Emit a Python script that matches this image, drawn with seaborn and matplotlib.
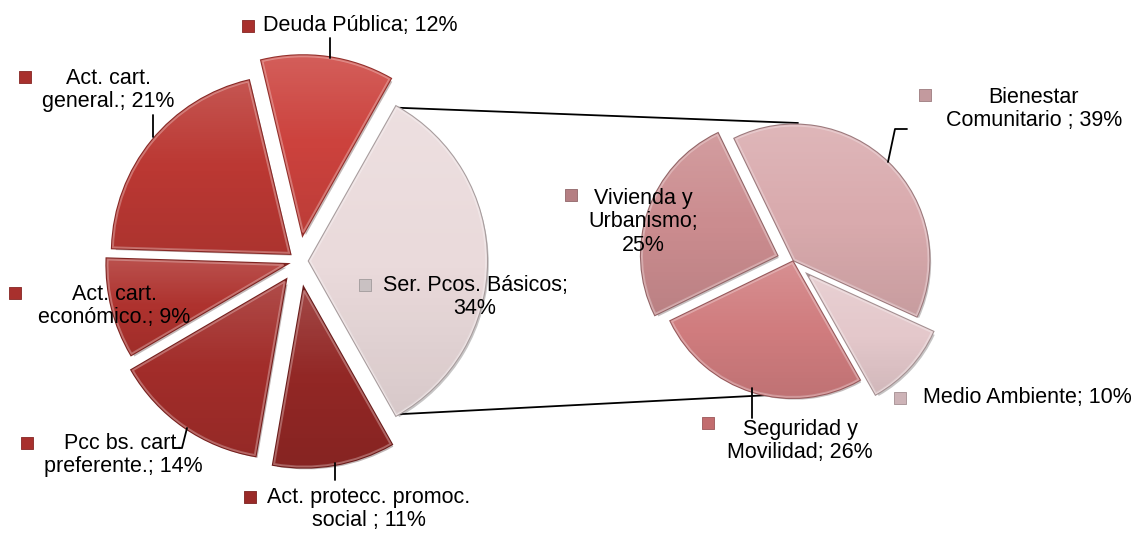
import numpy as np
import matplotlib
matplotlib.use("Agg")
import matplotlib.pyplot as plt
import matplotlib.patheffects as pe
import seaborn as sns

# ---------------- data ----------------
main_labels = ["Ser. Pcos. Básicos;\n34%", "Deuda Pública; 12%", "Act. cart.\ngeneral.; 21%",
               "Act. cart.\neconómico.; 9%", "Pcc bs. cart.\npreferente.; 14%",
               "Act. protecc. promoc.\nsocial ; 11%"]
main_values = [34, 12, 21, 9, 14, 11]

sub_labels = ["Bienestar\nComunitario ; 39%", "Vivienda y\nUrbanismo;\n25%",
              "Seguridad y\nMovilidad; 26%", "Medio Ambiente; 10%"]
sub_values = [39, 25, 26, 10]

# ---------------- style ----------------
main_colors = ["#EADADB", "#CC423D", "#BB3833", "#AE322E", "#A22D2A", "#922725"]
main_keys = ["#C9C1C2", "#A8302D", "#A8302D", "#A8302D", "#A8302D", "#9A2A28"]
sub_colors = ["#D9AAAD", "#CB8C8F", "#D07C7E", "#E4C8CB"]
sub_keys = ["#C39A9E", "#B57F83", "#C26C6E", "#CDB3B7"]

W, H = 1133, 533
def Y(y):
    return H - y

sns.set_theme(style="white")
plt.rcParams["font.family"] = ["Liberation Sans Narrow", "Liberation Sans", "DejaVu Sans"]

fig = plt.figure(figsize=(W / 100, H / 100), dpi=100)
ax = fig.add_axes([0, 0, 1, 1])

def darker(c, f=0.75):
    r, g, b = matplotlib.colors.to_rgb(c)
    return (r * f, g * f, b * f)

def lighter(c, f=0.35):
    r, g, b = matplotlib.colors.to_rgb(c)
    return (r + (1 - r) * f, g + (1 - g) * f, b + (1 - b) * f)

main_center = (299, Y(261))
main_radius = 176
main_explode = [11, 29, 13, 16, 25, 30]
wl, _ = ax.pie(main_values, center=main_center, radius=main_radius, startangle=-60.6,
               counterclock=True, explode=main_explode, colors=main_colors,
               wedgeprops=dict(linewidth=1.4))

sub_center = (793, Y(261))
sub_radius = 134
sub_explode = [2, 18, 2, 23]
wr, _ = ax.pie(sub_values, center=sub_center, radius=sub_radius, startangle=-24.5,
               counterclock=True, explode=sub_explode, colors=sub_colors,
               wedgeprops=dict(linewidth=1.4))

# bevel-like styling + gentle shading
grad = np.linspace(0, 1, 64)[:, None]
for w, c in list(zip(wl, main_colors)) + list(zip(wr, sub_colors)):
    w.set_edgecolor(lighter(c, 0.3))
    w.set_path_effects([pe.SimplePatchShadow(offset=(2, -2), alpha=0.3),
                        pe.Stroke(linewidth=3.0, foreground=darker(c, 0.72)),
                        pe.Normal()])
    ext = w.get_path().get_extents()
    rgba = np.zeros((64, 1, 4))
    rgba[..., :3] = np.where(grad < 0.5, 1.0, 0.0)[..., None]
    rgba[..., 3] = np.where(grad < 0.5, (0.5 - grad) * 0.3, (grad - 0.5) * 0.16)
    im = ax.imshow(rgba, extent=[ext.x0, ext.x1, ext.y0, ext.y1], origin="upper",
                   aspect="auto", interpolation="bilinear", zorder=w.get_zorder() + 0.1)
    im.set_clip_path(w)

# connector lines between the "other" slice and the secondary pie
w0 = wl[0]
cx0, cy0 = w0.center
r0 = w0.r
top_pt = (cx0 + r0 * np.cos(np.radians(w0.theta2)), cy0 + r0 * np.sin(np.radians(w0.theta2)))
bot_pt = (cx0 + r0 * np.cos(np.radians(w0.theta1)), cy0 + r0 * np.sin(np.radians(w0.theta1)))
ax.plot([top_pt[0], sub_center[0] + 5], [top_pt[1], sub_center[1] + sub_radius + 4],
        color="black", lw=1.3, zorder=0.5)
ax.plot([bot_pt[0], sub_center[0] - 3], [bot_pt[1], sub_center[1] - sub_radius + 1],
        color="black", lw=1.3, zorder=0.5)

# label layout: (text centre x, block centre y, key x, key y) in pixel coordinates
main_pos = [(475, 297, 365, 285), (360, 25, 248, 26), (108, 90, 25, 77),
            (114, 306, 15, 293), (123, 455, 27, 443), (369, 509, 250, 497)]
sub_pos = [(1034, 109, 925, 95), (643, 222, 571, 195), (800, 441, 708, 423),
           (1027, 398, 900, 398)]

font_kw = dict(fontsize=15.5, color="black", ha="center", va="center",
               linespacing=1.15, zorder=10)
for lab, (tx, ty, kx, ky), kc in list(zip(main_labels, main_pos, main_keys)) + \
        list(zip(sub_labels, sub_pos, sub_keys)):
    ax.text(tx, Y(ty), lab, **font_kw)
    ax.scatter([kx], [Y(ky)], marker="s", s=70, color=kc, edgecolor=darker(kc, 0.8),
               linewidth=0.6, zorder=10)

# leader lines
leaders = [
    [(330, 38), (330, 58)],
    [(153, 115), (153, 137)],
    [(173, 448), (182, 448), (187, 428)],
    [(335, 463), (335, 480)],
    [(907, 129), (895, 129), (888, 162)],
    [(752, 388), (752, 418)],
]
for seg in leaders:
    xs = [p[0] for p in seg]
    ys = [Y(p[1]) for p in seg]
    ax.plot(xs, ys, color="black", lw=1.3, zorder=9)

ax.set_xlim(0, W)
ax.set_ylim(0, H)
ax.set_aspect("auto")
ax.axis("off")
fig.savefig("out.png", dpi=100, facecolor="white")
